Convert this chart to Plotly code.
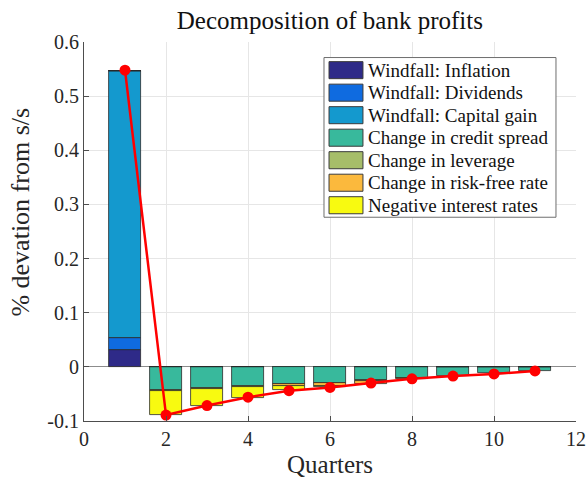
import plotly.graph_objects as go

quarters = [1, 2, 3, 4, 5, 6, 7, 8, 9, 10, 11]

inflation = [0.031, 0, 0, 0, 0, 0, 0, 0, 0, 0, 0]
dividends = [0.022, 0, 0, 0, 0, 0, 0, 0, 0, 0, 0]
capital_gain = [0.494, 0, 0, 0, 0, 0, 0, 0, 0, 0, 0]
credit_spread = [0, -0.0425, -0.039, -0.036, -0.031, -0.029, -0.025, -0.020, -0.016, -0.0115, -0.0085]
leverage = [0, -0.002, -0.001, -0.001, -0.001, -0.001, -0.001, -0.001, 0, 0, 0]
risk_free = [0, 0, 0, 0, -0.003, -0.006, -0.005, -0.001, 0, 0, 0]
negative_rates = [0, -0.045, -0.033, -0.021, -0.007, -0.002, 0, 0, 0, 0, 0]
total = [0.548, -0.089, -0.0715, -0.056, -0.044, -0.038, -0.030, -0.022, -0.017, -0.013, -0.0075]

series_names = [
    "Windfall: Inflation",
    "Windfall: Dividends",
    "Windfall: Capital gain",
    "Change in credit spread",
    "Change in leverage",
    "Change in risk-free rate",
    "Negative interest rates",
]
series_values = [inflation, dividends, capital_gain, credit_spread, leverage, risk_free, negative_rates]
series_colors = ["#2E2A88", "#0F6BE0", "#1499CE", "#38B99C", "#A6BD69", "#FBB93D", "#F8FA10"]

x_ticks = [0, 2, 4, 6, 8, 10, 12]
y_ticks = [-0.1, 0, 0.1, 0.2, 0.3, 0.4, 0.5, 0.6]
y_tick_text = ["-0.1", "0", "0.1", "0.2", "0.3", "0.4", "0.5", "0.6"]

FONT = "Liberation Serif, Times New Roman, serif"
EDGE = "#2a2a2a"

fig = go.Figure()
for name, vals, col in zip(series_names, series_values, series_colors):
    fig.add_trace(go.Bar(
        x=quarters, y=vals, name=name, width=0.8, showlegend=False,
        marker=dict(color=col, line=dict(color=EDGE, width=0.8)),
    ))

fig.add_trace(go.Scatter(
    x=quarters, y=total, mode="lines+markers", showlegend=False,
    line=dict(color="#FF0000", width=2.5),
    marker=dict(color="#FF0000", size=11),
))

# Custom legend (MATLAB-style wide swatches), plot-area paper coordinates
shapes = [dict(type="rect", xref="paper", yref="paper", layer="above",
               x0=0.4878, x1=0.9593, y0=0.5376, y1=0.959,
               fillcolor="white", line=dict(color="#6e6e6e", width=1))]
annotations = []
first_center = 0.9257
pitch = 0.0594
half_h = 0.0225
for i, (name, col) in enumerate(zip(series_names, series_colors)):
    yc = first_center - i * pitch
    shapes.append(dict(type="rect", xref="paper", yref="paper", layer="above",
                       x0=0.498, x1=0.567, y0=yc - half_h, y1=yc + half_h,
                       fillcolor=col, line=dict(color="#3a3a3a", width=1)))
    annotations.append(dict(text=name, xref="paper", yref="paper", x=0.574, y=yc,
                            xanchor="left", yanchor="middle", showarrow=False,
                            font=dict(family=FONT, size=19, color="#111")))

annotations.append(dict(text="Quarters", xref="paper", yref="paper", x=0.5, y=-0.116,
                        xanchor="center", yanchor="middle", showarrow=False,
                        font=dict(family=FONT, size=25, color="#262626")))
annotations.append(dict(text="% devation from s/s", xref="paper", yref="paper",
                        x=-0.128, y=0.55, textangle=-90,
                        xanchor="center", yanchor="middle", showarrow=False,
                        font=dict(family=FONT, size=26, color="#262626")))

fig.update_layout(
    width=587, height=480,
    barmode="relative",
    bargap=0,
    plot_bgcolor="white", paper_bgcolor="white",
    margin=dict(l=84, r=11, t=42, b=59),
    font=dict(family=FONT, size=20, color="#262626"),
    title=dict(text="Decomposition of bank profits", x=0.562, xanchor="center", xref="container",
               y=0.958, yanchor="middle", yref="container",
               font=dict(family=FONT, size=25, color="#111")),
    showlegend=False,
    shapes=shapes,
    annotations=annotations,
    xaxis=dict(range=[0, 12], tickvals=x_ticks,
               showgrid=True, gridcolor="#e6e6e6", gridwidth=1,
               showline=True, linecolor="#4d4d4d", linewidth=1,
               ticks="inside", ticklen=5, tickcolor="#4d4d4d",
               zeroline=False, automargin=False,
               tickfont=dict(family=FONT, size=20, color="#262626")),
    yaxis=dict(range=[-0.1, 0.6], tickvals=y_ticks, ticktext=y_tick_text,
               showgrid=True, gridcolor="#e6e6e6", gridwidth=1,
               showline=True, linecolor="#4d4d4d", linewidth=1,
               ticks="inside", ticklen=5, tickcolor="#4d4d4d",
               zeroline=True, zerolinecolor="#8c8c8c", zerolinewidth=1,
               automargin=False,
               tickfont=dict(family=FONT, size=20, color="#262626")),
)

fig.write_html("out.html", config={"displayModeBar": False},
               post_script="document.body.style.margin='0';document.body.style.overflow='hidden';")
